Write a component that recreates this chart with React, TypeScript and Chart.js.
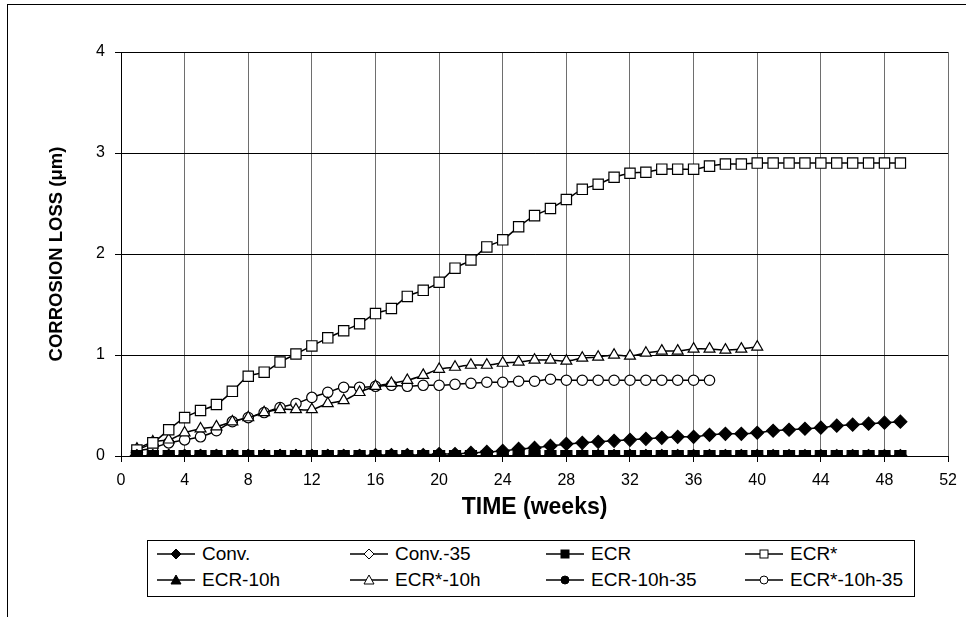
import React, { useEffect, useRef } from "react";
import { Chart, registerables } from "chart.js";

Chart.register(...registerables);

// ---- data ----
const weeks = [
  1, 2, 3, 4, 5, 6, 7, 8, 9, 10, 11, 12, 13, 14, 15, 16, 17, 18, 19, 20, 21, 22, 23, 24, 25,
  26, 27, 28, 29, 30, 31, 32, 33, 34, 35, 36, 37, 38, 39, 40, 41, 42, 43, 44, 45, 46, 47, 48, 49,
];

const conv = [
  0, 0, 0, 0, 0, 0, 0, 0, 0, 0, 0, 0, 0, 0, 0, 0.01, 0.01, 0.01, 0.01, 0.02, 0.02, 0.03, 0.04,
  0.05, 0.07, 0.08, 0.1, 0.12, 0.13, 0.14, 0.15, 0.16, 0.17, 0.18, 0.19, 0.19, 0.21, 0.22, 0.22,
  0.23, 0.25, 0.26, 0.27, 0.28, 0.3, 0.31, 0.32, 0.33, 0.34,
];

const conv35 = [
  0, 0, 0, 0, 0, 0, 0, 0, 0, 0, 0, 0, 0, 0, 0, 0, 0, 0, 0, 0, 0, 0, 0, 0, 0, 0, 0, 0, 0, 0, 0,
  0, 0, 0, 0, 0, 0, 0, 0, 0, 0, 0, 0, 0, 0, 0, 0, 0, 0,
];

const ecr = [
  0, 0, 0, 0, 0, 0, 0, 0, 0, 0, 0, 0, 0, 0, 0, 0, 0, 0, 0, 0, 0, 0, 0, 0, 0, 0, 0, 0, 0, 0, 0,
  0, 0, 0, 0, 0, 0, 0, 0, 0, 0, 0, 0, 0, 0, 0, 0, 0, 0,
];

const ecrStar = [
  0.06, 0.13, 0.26, 0.38, 0.45, 0.51, 0.64, 0.79, 0.83, 0.93, 1.01, 1.09, 1.17, 1.24, 1.31, 1.41,
  1.46, 1.58, 1.64, 1.72, 1.86, 1.94, 2.07, 2.14, 2.27, 2.38, 2.45, 2.54, 2.64, 2.69, 2.76, 2.8,
  2.81, 2.84, 2.84, 2.84, 2.87, 2.89, 2.89, 2.9, 2.9, 2.9, 2.9, 2.9, 2.9, 2.9, 2.9, 2.9, 2.9,
];

const ecr10h = [
  0, 0, 0, 0, 0, 0, 0, 0, 0, 0, 0, 0, 0, 0, 0, 0, 0, 0, 0, 0, 0, 0, 0, 0, 0, 0, 0, 0, 0, 0, 0,
  0, 0, 0, 0, 0, 0, 0, 0, 0,
];

const ecrStar10h = [
  0.07, 0.14, 0.16, 0.23, 0.27, 0.29, 0.34, 0.38, 0.43, 0.46, 0.46, 0.46, 0.52, 0.55, 0.63, 0.69,
  0.72, 0.75, 0.8, 0.86, 0.88, 0.9, 0.9, 0.92, 0.93, 0.95, 0.95, 0.94, 0.97, 0.98, 1.0, 0.99,
  1.02, 1.04, 1.04, 1.06, 1.06, 1.05, 1.06, 1.08,
];

const ecr10h35 = [
  0, 0, 0, 0, 0, 0, 0, 0, 0, 0, 0, 0, 0, 0, 0, 0, 0, 0, 0, 0, 0, 0, 0, 0, 0, 0, 0, 0, 0, 0, 0,
  0, 0, 0, 0, 0, 0,
];

const ecrStar10h35 = [
  0.05, 0.08, 0.13, 0.16, 0.19, 0.25, 0.34, 0.38, 0.43, 0.48, 0.52, 0.58, 0.63, 0.68, 0.68, 0.69,
  0.7, 0.69, 0.7, 0.7, 0.71, 0.72, 0.73, 0.73, 0.74, 0.74, 0.76, 0.75, 0.75, 0.75, 0.75, 0.75,
  0.75, 0.75, 0.75, 0.75, 0.75,
];

const xTicksMax = 52;
const yTicksMax = 4;
const xTitle = "TIME (weeks)";
const yTitle = "CORROSION LOSS (\u03bcm)";

type MarkerKind = "diamond" | "square" | "triangle" | "circle";

const legendItems: { label: string; kind: MarkerKind; filled: boolean }[] = [
  { label: "Conv.", kind: "diamond", filled: true },
  { label: "Conv.-35", kind: "diamond", filled: false },
  { label: "ECR", kind: "square", filled: true },
  { label: "ECR*", kind: "square", filled: false },
  { label: "ECR-10h", kind: "triangle", filled: true },
  { label: "ECR*-10h", kind: "triangle", filled: false },
  { label: "ECR-10h-35", kind: "circle", filled: true },
  { label: "ECR*-10h-35", kind: "circle", filled: false },
];

const FONT = "Arial, 'Liberation Sans', Helvetica, sans-serif";

function Marker({ kind, filled }: { kind: MarkerKind; filled: boolean }) {
  const fill = filled ? "#000" : "#fff";
  const cx = 19;
  const cy = 8;
  let shape: React.ReactNode = null;
  if (kind === "diamond") {
    shape = (
      <polygon
        points={`${cx},${cy - 5} ${cx + 5},${cy} ${cx},${cy + 5} ${cx - 5},${cy}`}
        fill={fill}
        stroke="#000"
        strokeWidth={1}
      />
    );
  } else if (kind === "square") {
    shape = <rect x={cx - 4} y={cy - 4} width={8} height={8} fill={fill} stroke="#000" strokeWidth={1} />;
  } else if (kind === "triangle") {
    shape = (
      <polygon
        points={`${cx},${cy - 5} ${cx + 5},${cy + 4} ${cx - 5},${cy + 4}`}
        fill={fill}
        stroke="#000"
        strokeWidth={1}
      />
    );
  } else {
    shape = <circle cx={cx} cy={cy} r={4} fill={fill} stroke="#000" strokeWidth={1} />;
  }
  return (
    <svg width={38} height={16} style={{ display: "block" }}>
      <line x1={0} y1={cy} x2={38} y2={cy} stroke="#000" strokeWidth={1.5} />
      {shape}
    </svg>
  );
}

export default function App() {
  const ref = useRef<HTMLCanvasElement>(null);

  useEffect(() => {
    if (!ref.current) return;
    const mk = (arr: number[]) => arr.map((v, i) => ({ x: weeks[i], y: v }));
    const base = {
      borderColor: "#000",
      borderWidth: 1.5,
      pointBorderColor: "#000",
      pointBorderWidth: 1.2,
      tension: 0.3,
      fill: false,
    };
    const chart = new Chart(ref.current, {
      type: "line",
      data: {
        datasets: [
          { ...base, label: "ECR", data: mk(ecr), pointStyle: "rect", pointRadius: 7.8, pointBackgroundColor: "#000", order: 0 },
          { ...base, label: "Conv.", data: mk(conv), pointStyle: "rectRot", pointRadius: 6.5, pointBackgroundColor: "#000", order: 1 },
          { ...base, label: "Conv.-35", data: mk(conv35), pointStyle: "rectRot", pointRadius: 6.5, pointBackgroundColor: "#fff", order: 5 },
          { ...base, label: "ECR*", data: mk(ecrStar), pointStyle: "rect", pointRadius: 7.3, pointBackgroundColor: "#fff", order: 2 },
          { ...base, label: "ECR-10h", data: mk(ecr10h), pointStyle: "triangle", pointRadius: 6, pointBackgroundColor: "#000", order: 6 },
          { ...base, label: "ECR*-10h", data: mk(ecrStar10h), pointStyle: "triangle", pointRadius: 6.3, pointBackgroundColor: "#fff", order: 3 },
          { ...base, label: "ECR-10h-35", data: mk(ecr10h35), pointStyle: "circle", pointRadius: 5, pointBackgroundColor: "#000", order: 7 },
          { ...base, label: "ECR*-10h-35", data: mk(ecrStar10h35), pointStyle: "circle", pointRadius: 5.2, pointBackgroundColor: "#fff", order: 4 },
        ],
      },
      options: {
        responsive: false,
        animation: false,
        devicePixelRatio: 1,
        layout: { padding: { left: 0, top: 52, right: 16, bottom: 91 } },
        plugins: { legend: { display: false }, tooltip: { enabled: false } },
        scales: {
          x: {
            type: "linear",
            min: 0,
            max: xTicksMax,
            ticks: { stepSize: 4, color: "#000", font: { family: FONT, size: 16 }, padding: 9, maxRotation: 0 },
            grid: { color: "#6e6e6e", lineWidth: 1, tickLength: 6, tickColor: "#000" },
            border: { display: true, color: "#000", width: 1 },
            title: {
              display: true,
              text: xTitle,
              color: "#000",
              font: { family: FONT, size: 23, weight: "bold" },
              padding: { top: 0, bottom: 5 },
            },
            afterFit: (s: any) => {
              s.height = 70;
            },
          },
          y: {
            type: "linear",
            min: 0,
            max: yTicksMax,
            ticks: { stepSize: 1, color: "#000", font: { family: FONT, size: 16 }, padding: 10 },
            grid: { color: "#000", lineWidth: 1, tickLength: 6, tickColor: "#000" },
            border: { display: true, color: "#000", width: 1 },
            title: {
              display: true,
              text: yTitle,
              color: "#000",
              font: { family: FONT, size: 18.5, weight: "bold" },
              padding: { top: 46, bottom: 0 },
            },
            afterFit: (s: any) => {
              s.width = 121;
            },
          },
        },
      },
    } as any);
    return () => chart.destroy();
  }, []);

  const colX = [157, 350, 546, 745];
  const rowY = [546, 572];

  return (
    <div
      style={{
        position: "absolute",
        left: 0,
        top: 0,
        width: 966,
        height: 617,
        overflow: "hidden",
        background: "#fff",
        fontFamily: FONT,
      }}
    >
      <div
        style={{
          position: "absolute",
          left: 7,
          top: 4,
          width: 1200,
          height: 900,
          borderLeft: "1.5px solid #000",
          borderTop: "1.5px solid #000",
        }}
      />
      <canvas ref={ref} width={966} height={617} style={{ position: "absolute", left: 0, top: 0 }} />
      <div
        style={{
          position: "absolute",
          left: 147,
          top: 540,
          width: 768,
          height: 57,
          border: "1px solid #000",
          boxSizing: "border-box",
          background: "#fff",
        }}
      />
      {legendItems.map((it, i) => {
        const col = i % 4;
        const row = Math.floor(i / 4);
        return (
          <div
            key={it.label}
            style={{
              position: "absolute",
              left: colX[col],
              top: rowY[row],
              height: 16,
              display: "flex",
              alignItems: "center",
              whiteSpace: "nowrap",
            }}
          >
            <Marker kind={it.kind} filled={it.filled} />
            <span style={{ marginLeft: 7, fontSize: 19, lineHeight: "16px", color: "#000" }}>{it.label}</span>
          </div>
        );
      })}
    </div>
  );
}
